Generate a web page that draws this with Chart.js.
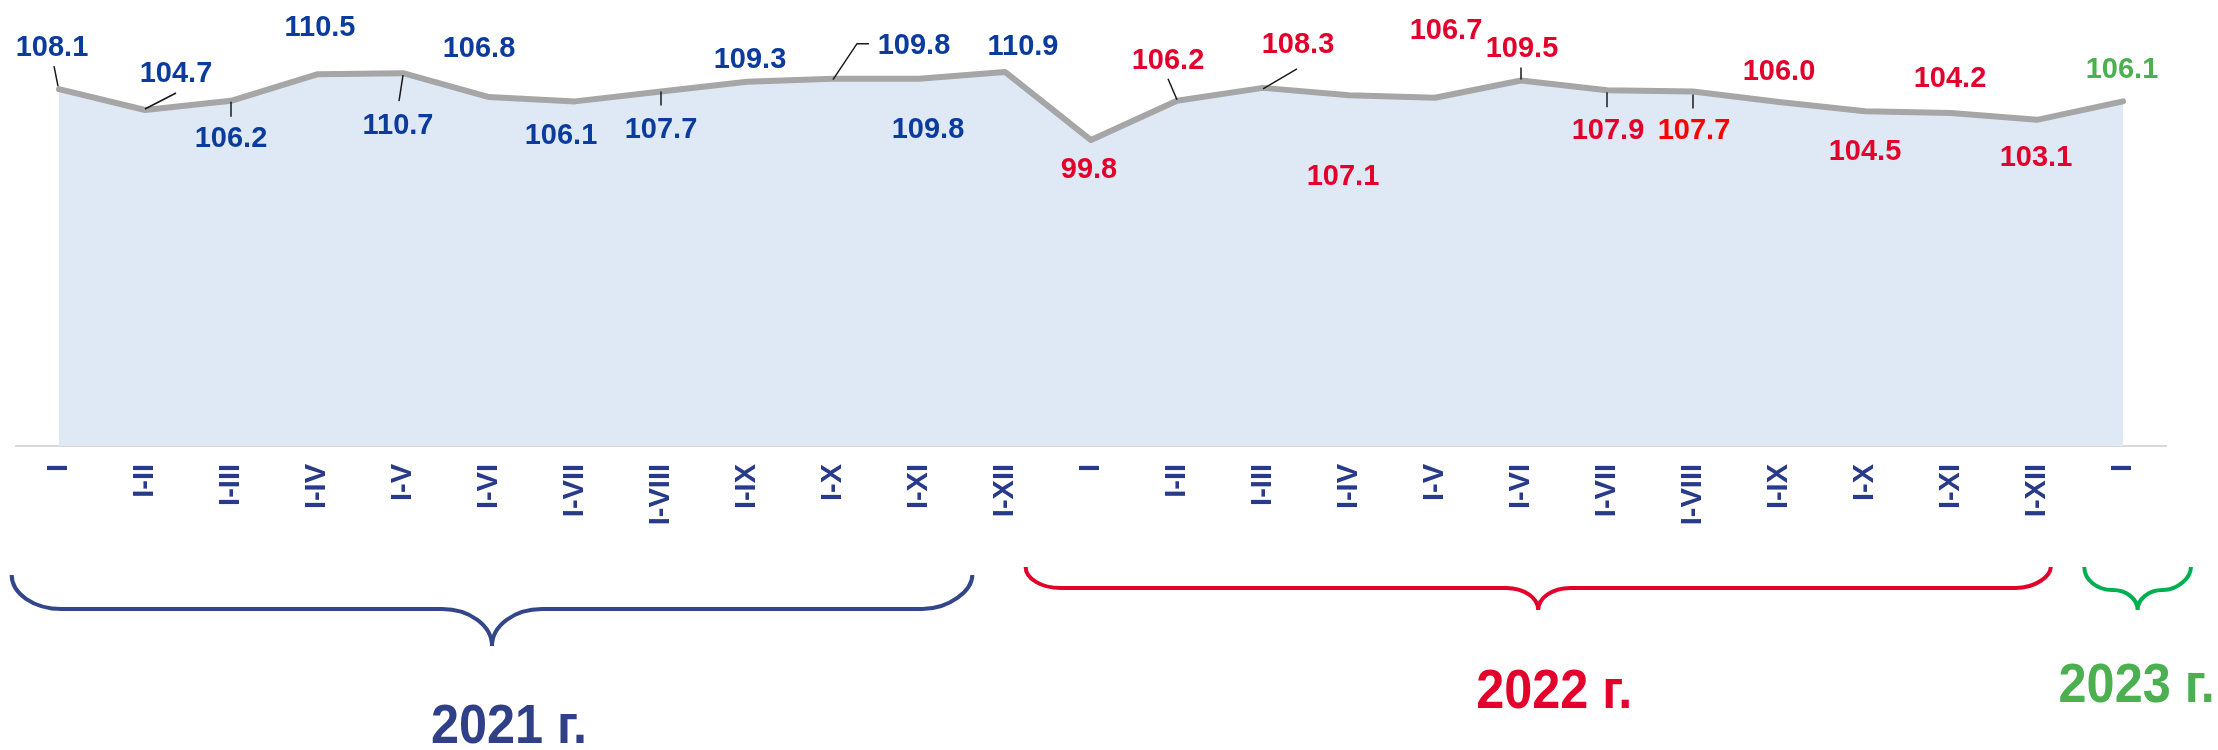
<!DOCTYPE html>
<html>
<head>
<meta charset="utf-8">
<script src="https://cdn.jsdelivr.net/npm/chart.js@4"></script>
<style>
  html, body { margin: 0; padding: 0; background: #fff; }
  #wrap { width: 2218px; height: 750px; position: relative; }
</style>
</head>
<body>
<div id="wrap"><canvas id="chart"></canvas></div>
<script>
// data
const categories = ['I','I-II','I-III','I-IV','I-V','I-VI','I-VII','I-VIII','I-IX','I-X','I-XI','I-XII',
                    'I','I-II','I-III','I-IV','I-V','I-VI','I-VII','I-VIII','I-IX','I-X','I-XI','I-XII',
                    'I'];
const values = [108.1, 104.7, 106.2, 110.5, 110.7, 106.8, 106.1, 107.7, 109.3, 109.8, 109.8, 110.9,
                99.8, 106.2, 108.3, 107.1, 106.7, 109.5, 107.9, 107.7, 106.0, 104.5, 104.2, 103.1,
                106.1];
const years = ['2021 г.', '2022 г.', '2023 г.'];
const yearFrom = [0, 12, 24];
const yearTo = [11, 23, 24];

// styles / layout
const FONT = "'Liberation Sans', Arial, sans-serif";
const yearText = ['#2f3f88', '#e3002b', '#4caf50'];
const yearBrace = ['#34468a', '#e3002b', '#00b050'];
const valueColors = ['#0b3b9c', '#e3002b', '#4caf50'];
const brightRed = { 19: '#ff0000' };

// label offset from its point (px)
const labelDx = [-7, 31, 0, 3, -5, -10, -14, 0, 3, 81, 9, 18, -2, -9, 35, -6, 11, 1, 1, 1, 0, 0, -1, -1, -1];
const labelDy = [-43, -38, 36, -49, 50, -50, 32, 36, -24, -35, 49, -27, 28, -42, -45, 79, -69, -34, 38, 37, -32, 38, -36, 36, -34];
// leader lines, relative to the point
const leaders = {
  0: [[-5, -23], [-1, -3]],
  1: [[31, -17], [0, -1]],
  2: [[0, 1], [0, 16]],
  4: [[0, 2], [-4, 28]],
  7: [[0, 0], [0, 14]],
  9: [[0, 1], [24, -35], [36, -35]],
  13: [[-9, -22], [0, -1]],
  14: [[34, -19], [0, 1]],
  17: [[0, -13], [0, -1]],
  18: [[0, 2], [0, 17]],
  19: [[0, 3], [0, 17]]
};

// braces: padding in category widths, vertical positions in px
const braceLeft = [-0.55, -0.76, -0.45];
const braceRight = [-0.38, 0.16, 0.79];
const braceTop = [575, 567, 567];
const braceBar = [609, 588, 590];
const braceTip = [646, 610, 610];
const braceRx = [50, 35, 28];
const braceCw = [50, 32, 25];
const yearDx = [17, 16, -1];
const yearY = [723, 688, 682];

function yearOf(i) {
  for (let g = 0; g < years.length; g++) {
    if (i >= yearFrom[g] && i <= yearTo[g]) return g;
  }
  return 0;
}

const labelsPlugin = {
  id: 'valueLabels',
  afterDatasetsDraw(chart) {
    const ctx = chart.ctx;
    const meta = chart.getDatasetMeta(0);
    ctx.save();
    // leader lines
    ctx.strokeStyle = '#1a1a1a';
    ctx.lineWidth = 1.5;
    Object.keys(leaders).forEach(k => {
      const p = meta.data[k];
      const pts = leaders[k];
      ctx.beginPath();
      ctx.moveTo(p.x + pts[0][0], p.y + pts[0][1]);
      for (let j = 1; j < pts.length; j++) ctx.lineTo(p.x + pts[j][0], p.y + pts[j][1]);
      ctx.stroke();
    });
    // values
    const size = 29;
    ctx.font = `bold ${size}px ${FONT}`;
    ctx.textAlign = 'center';
    ctx.textBaseline = 'alphabetic';
    meta.data.forEach((p, i) => {
      ctx.fillStyle = brightRed[i] || valueColors[yearOf(i)];
      ctx.fillText(values[i].toFixed(1), p.x + labelDx[i], p.y + labelDy[i] + size * 0.358);
    });
    ctx.restore();
  }
};

function drawBrace(ctx, x1, x2, yTop, yBar, yTip, rx, cw) {
  const k = 0.5523;
  const xm = (x1 + x2) / 2;
  const h = yBar - yTop;
  const t = yTip - yBar;
  ctx.beginPath();
  ctx.moveTo(x1, yTop);
  ctx.bezierCurveTo(x1, yTop + k * h, x1 + rx - k * rx, yBar, x1 + rx, yBar);
  ctx.lineTo(xm - cw, yBar);
  ctx.bezierCurveTo(xm - cw + k * cw, yBar, xm, yTip - k * t, xm, yTip);
  ctx.bezierCurveTo(xm, yTip - k * t, xm + cw - k * cw, yBar, xm + cw, yBar);
  ctx.lineTo(x2 - rx, yBar);
  ctx.bezierCurveTo(x2 - rx + k * rx, yBar, x2, yBar - k * h, x2, yTop);
  ctx.stroke();
}

const bracePlugin = {
  id: 'yearBraces',
  afterDraw(chart) {
    const ctx = chart.ctx;
    const xs = chart.scales.x;
    const step = xs.getPixelForValue(1) - xs.getPixelForValue(0);
    ctx.save();
    ctx.lineWidth = 4;
    ctx.lineCap = 'butt';
    years.forEach((name, g) => {
      const x1 = xs.getPixelForValue(yearFrom[g]) + braceLeft[g] * step;
      const x2 = xs.getPixelForValue(yearTo[g]) + braceRight[g] * step;
      ctx.strokeStyle = yearBrace[g];
      drawBrace(ctx, x1, x2, braceTop[g], braceBar[g], braceTip[g], braceRx[g], braceCw[g]);

      const size = 56;
      ctx.save();
      ctx.translate((x1 + x2) / 2 + yearDx[g], yearY[g] + size * 0.358);
      ctx.scale(0.9, 1);
      ctx.font = `bold ${size}px ${FONT}`;
      ctx.textAlign = 'center';
      ctx.textBaseline = 'alphabetic';
      ctx.fillStyle = yearText[g];
      ctx.fillText(name, 0, 0);
      ctx.restore();
    });
    ctx.restore();
  }
};

new Chart(document.getElementById('chart'), {
  type: 'line',
  data: {
    labels: categories,
    datasets: [{
      data: values,
      borderColor: '#a6a6a6',
      borderWidth: 6,
      borderCapStyle: 'round',
      borderJoinStyle: 'round',
      backgroundColor: '#dee9f5',
      fill: 'start',
      pointRadius: 0,
      tension: 0
    }]
  },
  options: {
    responsive: true,
    maintainAspectRatio: false,
    animation: false,
    layout: { padding: { left: 16, right: 52, top: 16, bottom: 0 } },
    plugins: {
      legend: { display: false },
      tooltip: { enabled: false }
    },
    scales: {
      x: {
        offset: true,
        grid: { display: false, drawTicks: false },
        border: { color: '#d9d9d9', width: 2 },
        ticks: {
          autoSkip: false,
          minRotation: 90,
          maxRotation: 90,
          padding: 18,
          color: '#283a8a',
          font: { family: FONT, size: 29, weight: 'bold' }
        },
        afterFit: (s) => { s.height = 304; }
      },
      y: {
        display: false,
        min: 50,
        max: 120
      }
    }
  },
  plugins: [labelsPlugin, bracePlugin]
});
</script>
</body>
</html>
